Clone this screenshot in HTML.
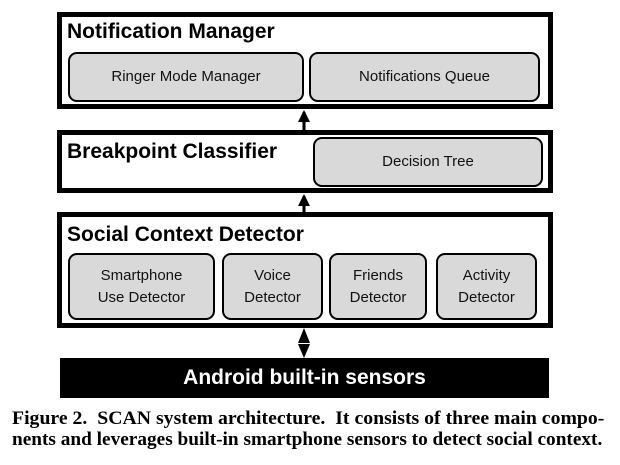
<!DOCTYPE html>
<html><head><style>
body{margin:0;width:620px;height:465px;background:#fff;position:relative;overflow:hidden;font-family:"Liberation Sans",sans-serif;}
.o{position:absolute;border:5px solid #000;background:#fff;box-sizing:border-box;}
.i{position:absolute;border:2px solid #000;border-radius:9px;background:#d9d9d9;box-sizing:border-box;display:flex;align-items:center;justify-content:center;text-align:center;font-size:15px;line-height:22px;color:#111;}
.t{position:absolute;font-weight:bold;font-size:21px;color:#000;white-space:nowrap;}
.cap{position:absolute;left:12px;font-family:"Liberation Serif",serif;font-weight:bold;font-size:19px;white-space:nowrap;transform-origin:0 0;}
</style></head><body>
<div class="o" style="left:57px;top:12px;width:496px;height:97px"></div>
<div class="t" style="left:67px;top:20px">Notification Manager</div>
<div class="i" style="left:68px;top:52px;width:236px;height:50px">Ringer Mode Manager</div>
<div class="i" style="left:309px;top:52px;width:231px;height:50px">Notifications Queue</div>

<div class="o" style="left:57px;top:130px;width:496px;height:63px"></div>
<div class="t" style="left:67px;top:140px">Breakpoint Classifier</div>
<div class="i" style="left:313px;top:137px;width:230px;height:50px">Decision Tree</div>

<div class="o" style="left:57px;top:212px;width:496px;height:116px"></div>
<div class="t" style="left:67px;top:223px">Social Context Detector</div>
<div class="i" style="left:68px;top:253px;width:147px;height:67px">Smartphone<br>Use Detector</div>
<div class="i" style="left:222px;top:253px;width:101px;height:67px">Voice<br>Detector</div>
<div class="i" style="left:329px;top:253px;width:98px;height:67px">Friends<br>Detector</div>
<div class="i" style="left:436px;top:253px;width:101px;height:67px">Activity<br>Detector</div>

<svg style="position:absolute;left:0;top:0" width="620" height="465">
<line x1="304" y1="112" x2="304" y2="130" stroke="#000" stroke-width="3"/>
<polygon points="298,122 310,122 304,110" fill="#000"/>
<line x1="304" y1="196" x2="304" y2="212" stroke="#000" stroke-width="3"/>
<polygon points="298,206 310,206 304,194" fill="#000"/>
<polygon points="304,328 310,343 298,343" fill="#000"/>
<polygon points="304,358 310,344 298,344" fill="#000"/>
</svg>

<div style="position:absolute;left:60px;top:358px;width:489px;height:40px;background:#000;color:#fff;font-weight:bold;font-size:21px;display:flex;align-items:center;justify-content:center">Android built-in sensors</div>

<div class="cap" style="top:408px;transform:scaleX(1.04)">Figure 2.&nbsp; SCAN system architecture.&nbsp; It consists of three main compo-</div>
<div class="cap" style="top:429px;transform:scaleX(1.015)">nents and leverages built-in smartphone sensors to detect social context.</div>
</body></html>
